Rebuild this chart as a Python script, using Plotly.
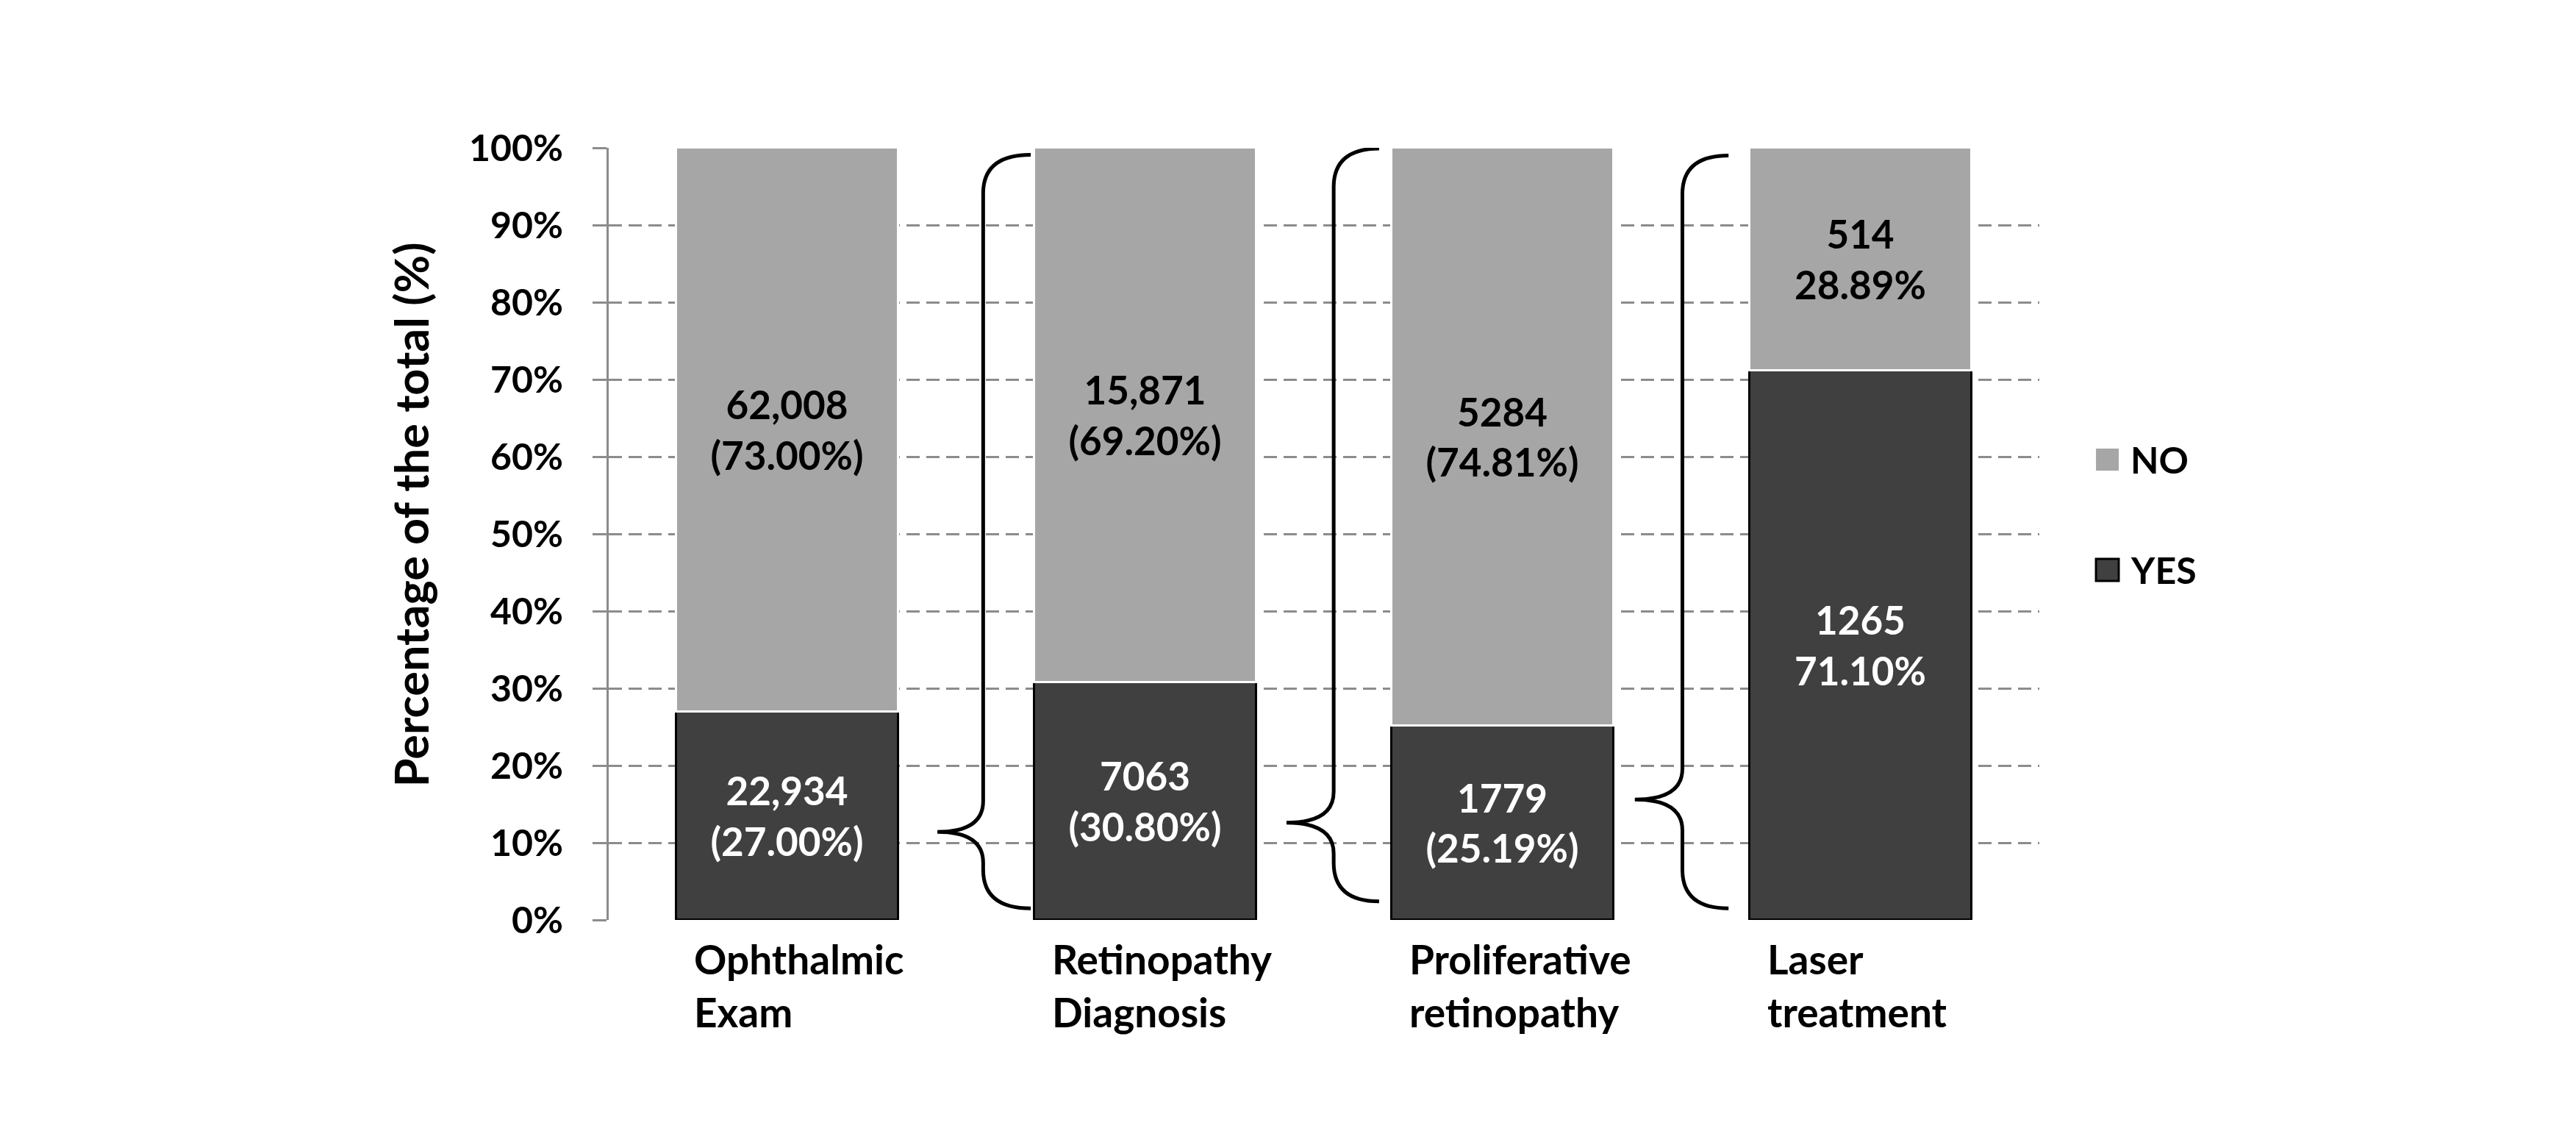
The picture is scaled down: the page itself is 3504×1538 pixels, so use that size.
import plotly.graph_objects as go

# ---------------- data ----------------
CATEGORIES = ["Ophthalmic<br>Exam", "Retinopathy<br>Diagnosis",
              "Proliferative<br>retinopathy", "Laser<br>treatment"]
SERIES = ["YES", "NO"]
YES_PCT = [27.00, 30.80, 25.19, 71.10]
NO_PCT = [73.00, 69.20, 74.81, 28.89]
YES_COUNTS = ["22,934", "7063", "1779", "1265"]
NO_COUNTS = ["62,008", "15,871", "5284", "514"]
PCT_IN_PARENS = [True, True, True, False]
Y_TICKS = [0, 10, 20, 30, 40, 50, 60, 70, 80, 90, 100]
Y_TICK_TEXT = [f"{v}%" for v in Y_TICKS]
Y_TITLE = "Percentage of the total (%)"

# ---------------- style ----------------
FONT = "Lato"
FS_TICK = 50
FS_BAR = 53
FS_CAT = 55
FS_TITLE = 63
FS_LEG = 50
YES_COLOR = "#404040"
NO_COLOR = "#a6a6a6"
GRID_COLOR = "#8c8c8c"
BAR_WIDTH = 0.62

# brace geometry (relative to left bar centre, y in axis %)
BRACES = [
    dict(left=0, tip=0.419, stem=0.547, end=0.680, tip_y=11.4, top=99.1, bottom=1.5),
    dict(left=1, tip=0.395, stem=0.527, end=0.654, tip_y=12.6, top=99.9, bottom=2.4),
    dict(left=2, tip=0.369, stem=0.502, end=0.631, tip_y=15.6, top=99.0, bottom=1.5),
]


def label(count, pct, parens):
    return f"{count}<br>({pct:.2f}%)" if parens else f"{count}<br>{pct:.2f}%"


def bold(size, color="black"):
    return dict(family=FONT, size=size, color=color, weight="bold")


xs = list(range(len(CATEGORIES)))

fig = go.Figure()
fig.add_trace(go.Bar(
    x=xs, y=YES_PCT, name=SERIES[0], width=BAR_WIDTH,
    marker=dict(color=YES_COLOR, line=dict(color="black", width=3)),
    text=[label(c, p, b) for c, p, b in zip(YES_COUNTS, YES_PCT, PCT_IN_PARENS)],
    textposition="inside", insidetextanchor="middle", constraintext="none",
    textfont=bold(FS_BAR, "white"),
    showlegend=False, hoverinfo="skip",
))
fig.add_trace(go.Bar(
    x=xs, y=NO_PCT, name=SERIES[1], width=BAR_WIDTH,
    marker=dict(color=NO_COLOR, line=dict(color="white", width=3)),
    text=[label(c, p, b) for c, p, b in zip(NO_COUNTS, NO_PCT, PCT_IN_PARENS)],
    textposition="inside", insidetextanchor="middle", constraintext="none",
    textfont=bold(FS_BAR, "black"),
    showlegend=False, hoverinfo="skip",
))


def brace_path(xt, xs_, xe, yt, ytop, ybot, r_end=5.0, r_mid=4.0):
    return (f"M {xe},{ytop} Q {xs_},{ytop} {xs_},{ytop - r_end} "
            f"L {xs_},{yt + r_mid} Q {xs_},{yt} {xt},{yt} "
            f"Q {xs_},{yt} {xs_},{yt - r_mid} "
            f"L {xs_},{ybot + r_end} Q {xs_},{ybot} {xe},{ybot}")


shapes = []
for b in BRACES:
    c = xs[b["left"]]
    shapes.append(dict(
        type="path", xref="x", yref="y",
        path=brace_path(c + b["tip"], c + b["stem"], c + b["end"],
                        b["tip_y"], b["top"], b["bottom"]),
        line=dict(color="black", width=5),
    ))

# manual legend (NO above YES)
shapes.append(dict(type="rect", xref="paper", yref="paper",
                   x0=1.0396, x1=1.0555, y0=0.5819, y1=0.6105,
                   fillcolor=NO_COLOR, line=dict(width=0)))
shapes.append(dict(type="rect", xref="paper", yref="paper",
                   x0=1.0396, x1=1.0555, y0=0.439, y1=0.4676,
                   fillcolor=YES_COLOR, line=dict(color="black", width=3)))

annotations = [
    dict(xref="paper", yref="paper", x=1.0627, y=0.596, text=SERIES[1],
         xanchor="left", yanchor="middle", showarrow=False, font=bold(FS_LEG)),
    dict(xref="paper", yref="paper", x=1.0627, y=0.453, text=SERIES[0],
         xanchor="left", yanchor="middle", showarrow=False, font=bold(FS_LEG)),
    dict(xref="paper", yref="paper", x=-0.1385, y=0.525, text=Y_TITLE,
         textangle=-90, xanchor="center", yanchor="middle", showarrow=False,
         font=bold(FS_TITLE)),
]
for x, cat in zip(xs, CATEGORIES):
    annotations.append(dict(
        xref="x", yref="paper", x=x - BAR_WIDTH / 2, y=0, xshift=22, yshift=-18,
        text=cat, align="left", xanchor="left", yanchor="top",
        showarrow=False, font=bold(FS_CAT),
    ))

# page body has an 8px margin: shift the figure so the plot area lands right
fig.update_layout(
    width=3488, height=1522,
    margin=dict(l=820, r=722, t=193, b=279),
    paper_bgcolor="white", plot_bgcolor="white",
    barmode="stack", bargap=0,
    shapes=shapes, annotations=annotations,
    showlegend=False,
    font=dict(family=FONT, size=FS_TICK, color="black"),
)
fig.update_xaxes(
    range=[-0.5, 3.5], showticklabels=False, showgrid=False,
    zeroline=False, showline=False, ticks="",
)
fig.update_yaxes(
    range=[0, 100], tickmode="array", tickvals=Y_TICKS, ticktext=Y_TICK_TEXT,
    tickfont=bold(FS_TICK),
    showgrid=True, gridcolor=GRID_COLOR, gridwidth=3, griddash="18px,9px",
    zeroline=False, showline=True, linecolor=GRID_COLOR, linewidth=3,
    ticks="outside", ticklen=19, tickwidth=3, tickcolor=GRID_COLOR,
    ticklabelstandoff=30,
)

fig.write_html("out.html")
